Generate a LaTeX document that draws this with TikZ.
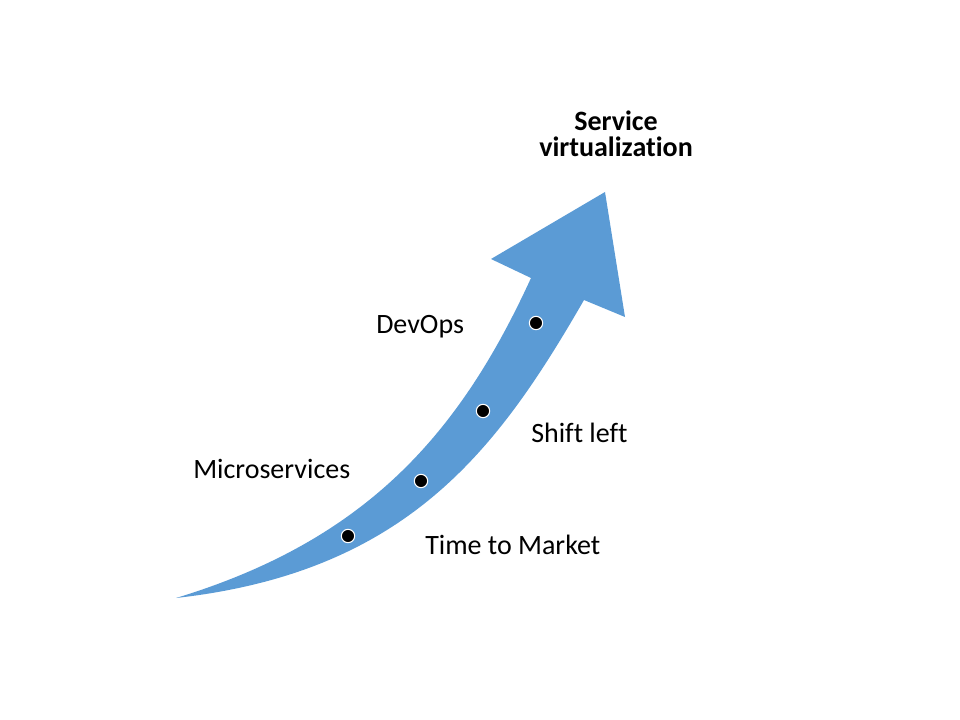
\documentclass[tikz,border=0pt]{standalone}
\usepackage{fontspec}
\setmainfont{Carlito}[Ligatures=NoCommon]
\begin{document}
\begin{tikzpicture}[x=0.75pt,y=-0.75pt,
  lbl/.style={inner sep=0pt,anchor=base west,font=\fontsize{21}{25}\selectfont},
  title/.style={inner sep=0pt,anchor=base,font=\fontsize{21}{25}\selectfont\bfseries},
  milestone/.style={circle,fill=black,draw=white,line width=0.8pt,minimum size=10pt,inner sep=0pt}]
\useasboundingbox (0,0) rectangle (960,720);
\definecolor{arrowblue}{HTML}{5B9BD5}
% arrow
\fill[arrowblue] (176,598) .. controls (367,540) and (460,433) .. (531,278)
  -- (491,259) -- (605,192) -- (625,317) -- (584,300)
  .. controls (498,449) and (408,572) .. (176,598) -- cycle;
% milestones
\node[milestone] (m1) at (348,536) {};
\node[milestone] (m2) at (421,481) {};
\node[milestone] (m3) at (483,411) {};
\node[milestone] (m4) at (536,323) {};
% labels
\node[lbl] (micro) at (193,478) {Microservices};
\node[lbl] (devops) at (376,334) {DevOps};
\node[lbl] (shift) at (531,442) {Shift left};
\node[lbl] (ttm) at (425,554) {Time to Market};
\node[title] (sv1) at (616,131) {Service};
\node[title] (sv2) at (616,157) {virtualization};
\end{tikzpicture}
\end{document}
